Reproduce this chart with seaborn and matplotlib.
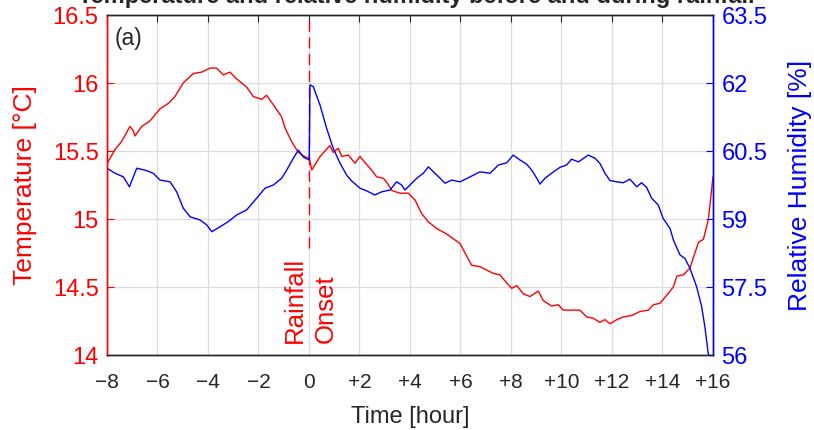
import pandas as pd
import matplotlib
matplotlib.use("Agg")
import matplotlib.pyplot as plt
import seaborn as sns

# values
temp_hour = [-7.99, -7.68, -7.42, -7.09, -6.96, -6.89, -6.63, -6.3, -6.17, -5.9,
             -5.57, -5.31, -4.98, -4.58, -4.25, -3.92, -3.66, -3.39, -3.13, -2.86,
             -2.47, -2.2, -1.87, -1.68, -1.41, -1.08, -0.95, -0.69, -0.42, -0.09,
             0.01, 0.11, 0.44, 0.83, 0.96, 1.16, 1.3, 1.56, 1.82, 2.02, 2.29, 2.48,
             2.68, 2.94, 3.08, 3.28, 3.6, 3.93, 4.2, 4.46, 4.72, 5.06, 5.45, 5.98,
             6.44, 6.77, 7.3, 7.56, 7.83, 8.03, 8.23, 8.49, 8.75, 9.08, 9.28, 9.61,
             9.87, 10.07, 10.4, 10.73, 11.0, 11.26, 11.52, 11.72, 11.92, 12.19,
             12.45, 12.78, 13.11, 13.44, 13.64, 13.9, 14.17, 14.43, 14.57, 14.83,
             15.09, 15.23, 15.43, 15.62, 15.82, 16.0]
temp_c = [15.41, 15.51, 15.57, 15.68, 15.65, 15.61, 15.68, 15.72, 15.75, 15.81,
          15.85, 15.90, 16.00, 16.07, 16.08, 16.11, 16.11, 16.06, 16.08, 16.03,
          15.97, 15.90, 15.88, 15.91, 15.84, 15.75, 15.67, 15.57, 15.49, 15.45,
          15.45, 15.36, 15.46, 15.54, 15.49, 15.52, 15.46, 15.47, 15.41, 15.46, 15.40, 15.36,
          15.31, 15.30, 15.27, 15.21, 15.19, 15.19, 15.14, 15.04, 14.98, 14.93, 14.89, 14.82,
          14.66, 14.65, 14.60, 14.59, 14.53, 14.49, 14.51, 14.45, 14.43, 14.47, 14.40, 14.36,
          14.37, 14.33, 14.33, 14.33, 14.28, 14.27, 14.24, 14.26, 14.23, 14.26,
          14.28, 14.29, 14.32, 14.33, 14.37, 14.38, 14.44, 14.50, 14.58, 14.59,
          14.64, 14.72, 14.83, 14.85, 15.00, 15.31]

rh_hour = [-8.0, -7.68, -7.35, -7.11, -6.82, -6.5, -6.17, -5.9, -5.5, -5.24,
           -4.98, -4.71, -4.32, -4.05, -3.85, -3.52, -3.2, -2.86, -2.47, -2.07,
           -1.74, -1.41, -1.08, -0.88, -0.62, -0.42, -0.23, 0.01, 0.04, 0.17,
           0.44, 0.7, 0.96, 1.23, 1.49, 1.69, 2.02, 2.29, 2.61, 2.88, 3.21,
           3.47, 3.67, 3.8, 4.0, 4.27, 4.53, 4.73, 4.93, 5.19, 5.39, 5.65, 5.98,
           6.38, 6.77, 7.17, 7.5, 7.83, 8.09, 8.36, 8.62, 8.82, 9.02, 9.15, 9.35,
           9.61, 9.94, 10.2, 10.4, 10.67, 11.06, 11.33, 11.52, 11.72, 11.92,
           12.19, 12.45, 12.71, 12.98, 13.17, 13.37, 13.57, 13.83, 14.03, 14.3,
           14.43, 14.69, 14.89, 15.09, 15.35, 15.55, 15.68, 15.81, 16.0]
rh_pct = [60.12, 60.01, 59.93, 59.71, 60.12, 60.08, 60.01, 59.86, 59.82, 59.60,
          59.24, 59.05, 58.98, 58.87, 58.72, 58.83, 58.94, 59.09, 59.20, 59.46,
          59.68, 59.75, 59.90, 60.08, 60.34, 60.52, 60.37, 60.30, 61.96, 61.92,
          61.51, 61.00, 60.56, 60.23, 59.97, 59.84, 59.68, 59.62, 59.53, 59.60, 59.64,
          59.82, 59.75, 59.64, 59.75, 59.90, 60.01, 60.15, 60.04, 59.90, 59.79, 59.86, 59.82,
          59.93, 60.04, 60.01, 60.19, 60.24, 60.41, 60.30, 60.21, 60.08, 59.90, 59.77, 59.90,
          60.01, 60.14, 60.19, 60.32, 60.26, 60.41, 60.34, 60.23, 60.01, 59.85,
          59.82, 59.80, 59.88, 59.71, 59.80, 59.70, 59.46, 59.31, 59.01, 58.79,
          58.54, 58.21, 58.13, 57.91, 57.51, 57.07, 56.62, 56.04, 55.70]

x_ticks = list(range(-8, 17, 2))
x_labels = ["\u22128", "\u22126", "\u22124", "\u22122", "0", "+2", "+4", "+6",
            "+8", "+10", "+12", "+14", "+16"]
temp_ticks = [14, 14.5, 15, 15.5, 16, 16.5]
rh_ticks = [56, 57.5, 59, 60.5, 62, 63.5]

temp_df = pd.DataFrame({"hour": temp_hour, "temp": temp_c})
rh_df = pd.DataFrame({"hour": rh_hour, "rh": rh_pct})

sns.set_style("white")
plt.rcParams["font.family"] = ["Liberation Sans", "DejaVu Sans"]
axis_gray = "#262626"

fig = plt.figure(figsize=(8.14, 4.30), dpi=100)
ax = fig.add_axes([0.1314, 0.1744, 0.7445, 0.7907])
ax2 = ax.twinx()

ax.grid(True, color="#dcdcdc", linewidth=0.9)
ax.set_axisbelow(True)

# rainfall onset marker, with a gap where the label sits
ax.plot([0, 0], [14.79, 16.5], color="red", linestyle=(0, (8, 4)), linewidth=1.0)
ax.text(0.05, 14.09, "Rainfall\nOnset", rotation=90, color="red", fontsize=18.5,
        ha="center", va="bottom", multialignment="left", linespacing=1.35)

sns.lineplot(data=temp_df, x="hour", y="temp", ax=ax, color="red", linewidth=1.0)
sns.lineplot(data=rh_df, x="hour", y="rh", ax=ax2, color="blue", linewidth=1.0)

ax.set_xlim(-8, 16)
ax.set_ylim(14, 16.5)
ax2.set_ylim(56, 63.5)
ax.set_xticks(x_ticks)
ax.set_xticklabels(x_labels, fontsize=15, color=axis_gray)
ax.set_yticks(temp_ticks)
ax.set_yticklabels([f"{t:g}" for t in temp_ticks], fontsize=17, color="red")
ax2.set_yticks(rh_ticks)
ax2.set_yticklabels([f"{t:g}" for t in rh_ticks], fontsize=17, color="blue")

ax.tick_params(axis="x", direction="in", length=5, color=axis_gray, top=True, pad=13)
ax.tick_params(axis="y", direction="in", length=5, color="red", pad=6)
ax2.tick_params(axis="y", direction="in", length=5, color="blue", pad=6)

ax.set_xlabel("Time [hour]", fontsize=17, color=axis_gray, labelpad=10)
ax.set_ylabel("Temperature [\u00b0C]", fontsize=19, color="red", labelpad=11)
ax2.set_ylabel("Relative Humidity [%]", fontsize=19, color="blue", labelpad=15)

for a in (ax, ax2):
    for s in a.spines.values():
        s.set_linewidth(1.0)
        s.set_color(axis_gray)
    a.spines["left"].set_color("red")
    a.spines["right"].set_color("blue")

ax.text(0.012, 0.965, "(a)", transform=ax.transAxes, fontsize=16.5, ha="left", va="top")
fig.text(0.511, 1 - 3 / 430, "Temperature and relative humidity before and during rainfall",
         ha="center", va="baseline", fontsize=17, fontweight="bold")

fig.savefig("out.png", dpi=100)
